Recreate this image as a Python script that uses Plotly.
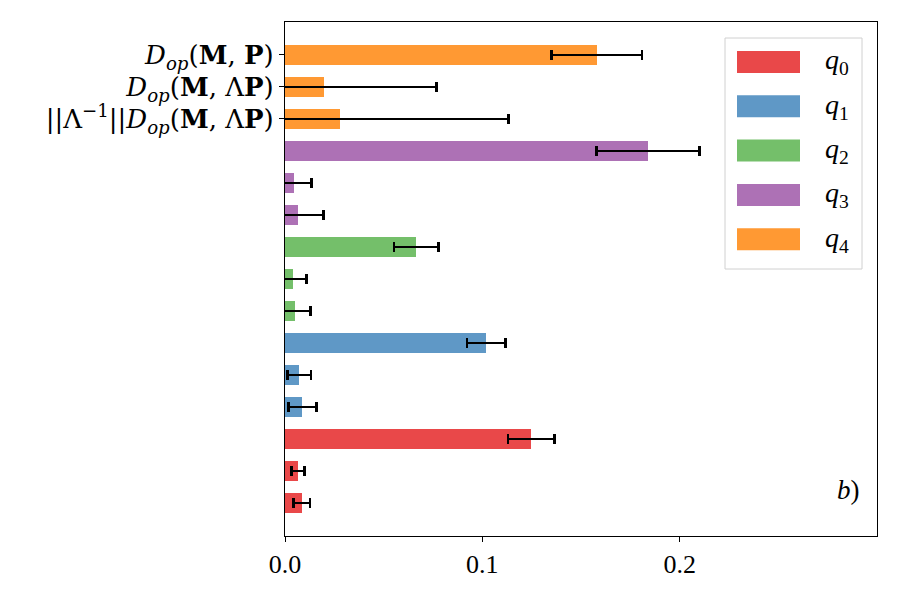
import plotly.graph_objects as go

# ---- data ----
groups = ["q0", "q1", "q2", "q3", "q4"]
metric_labels = [
    "||Λ<sup>−1</sup>||<i>D</i><sub><i>op</i></sub>(<b>M</b>, Λ<b>P</b>)",
    "<i>D</i><sub><i>op</i></sub>(<b>M</b>, Λ<b>P</b>)",
    "<i>D</i><sub><i>op</i></sub>(<b>M</b>, <b>P</b>)",
]
d_norm = [0.0085, 0.0088, 0.0051, 0.0068, 0.0279]
d_norm_err = [0.0042, 0.0072, 0.0078, 0.0127, 0.0853]
d_mlp = [0.0066, 0.0073, 0.0042, 0.0047, 0.0196]
d_mlp_err = [0.0034, 0.0059, 0.0068, 0.0088, 0.0570]
d_mp = [0.1247, 0.1019, 0.0665, 0.1840, 0.1580]
d_mp_err = [0.0117, 0.0097, 0.0113, 0.0260, 0.0229]
colors = ["rgb(233,72,73)", "rgb(95,152,198)", "rgb(116,191,106)",
          "rgb(173,113,181)", "rgb(255,153,51)"]
xtick_vals = [0.0, 0.1, 0.2]
xtick_text = ["0.0", "0.1", "0.2"]

FONT = "Liberation Serif"
YFONT = "DejaVu Serif"
W, H = 900, 600
L, R, T, B = 285, 877, 22, 536

def xp(px):
    return (px - L) / (R - L)

def yp(py):
    return (B - py) / (B - T)

fig = go.Figure()
for g, name in enumerate(groups):
    xs = [d_norm[g], d_mlp[g], d_mp[g]]
    es = [d_norm_err[g], d_mlp_err[g], d_mp_err[g]]
    ys = [3 * g, 3 * g + 1, 3 * g + 2]
    fig.add_trace(go.Bar(
        x=xs, y=ys, orientation="h", name=name, width=0.6,
        marker=dict(color=colors[g], line=dict(width=0)),
        error_x=dict(type="data", array=es, arrayminus=es, visible=True,
                     color="black", thickness=2.7, width=5),
        showlegend=False,
    ))

fig.update_layout(
    width=W, height=H,
    margin=dict(l=L, r=W - R, t=T, b=H - B),
    paper_bgcolor="white", plot_bgcolor="white",
    font=dict(family=FONT, size=24, color="black"),
    bargap=0,
)
fig.update_xaxes(
    range=[0, 0.3], tickvals=xtick_vals, ticktext=xtick_text,
    showgrid=False, zeroline=False, showline=True, mirror=True,
    linecolor="black", linewidth=1.2, ticks="outside", ticklen=5,
    tickcolor="black", tickwidth=1.2, tickfont=dict(size=26, family=FONT),
)
fig.update_yaxes(
    range=[-1.03, 15.03], tickvals=[12, 13, 14], ticktext=metric_labels,
    showgrid=False, zeroline=False, showline=True, mirror=True,
    linecolor="black", linewidth=1.2, ticks="outside", ticklen=5,
    tickcolor="black", tickwidth=1.2, tickfont=dict(size=26, family=YFONT),
)

# legend (drawn in paper coordinates)
shapes = [dict(type="rect", xref="paper", yref="paper",
               x0=xp(725), x1=xp(862), y0=yp(269), y1=yp(38),
               line=dict(color="#d0d0d0", width=1), fillcolor="white",
               layer="above")]
annotations = []
for i, name in enumerate(groups):
    cy = 62 + 44.3 * i
    shapes.append(dict(type="rect", xref="paper", yref="paper",
                       x0=xp(737), x1=xp(800), y0=yp(cy + 11), y1=yp(cy - 11),
                       line=dict(width=0), fillcolor=colors[i], layer="above"))
    annotations.append(dict(xref="paper", yref="paper", x=xp(823), y=yp(cy),
                            xanchor="left", yanchor="middle", showarrow=False,
                            text="<i>q</i><sub>%s</sub>" % name[1:],
                            font=dict(size=28, family=FONT)))
annotations.append(dict(xref="paper", yref="paper", x=xp(862), y=yp(490),
                        xanchor="right", yanchor="middle", showarrow=False,
                        text="<i>b</i>)", font=dict(size=27, family=FONT)))
fig.update_layout(shapes=shapes, annotations=annotations)

fig.write_html("out.html")
